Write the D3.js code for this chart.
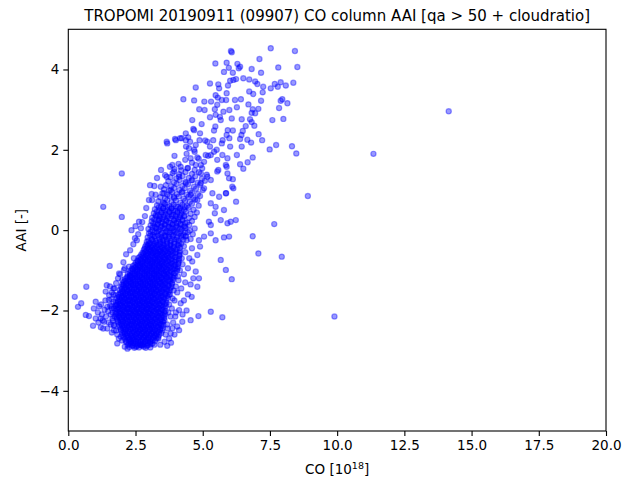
<!DOCTYPE html>
<html>
<head>
<meta charset="utf-8">
<script src="https://cdn.jsdelivr.net/npm/d3@7"></script>
<style>
html,body{margin:0;padding:0;background:#fff;}
svg{display:block;font-family:"DejaVu Sans",sans-serif;}
</style>
</head>
<body>
<svg id="chart" width="624" height="482"></svg>
<script>
// ---- data: [CO (10^18), AAI] ----
const xTicks = [0, 2.5, 5, 7.5, 10, 12.5, 15, 17.5, 20];
const yTicks = [-4, -2, 0, 2, 4];
const xDomain = [0, 20];
const yDomain = [-5, 5];

const corePoints = [
[2.27,-2.91],[2.38,-2.88],[2.46,-2.93],[2.55,-2.89],[2.63,-2.92],[2.72,-2.87],[2.81,-2.90],[2.93,-2.88],
[2.16,-2.79],[2.25,-2.82],[2.33,-2.78],[2.42,-2.81],[2.51,-2.77],[2.60,-2.82],[2.68,-2.79],[2.77,-2.83],[2.86,-2.78],[2.95,-2.81],[3.04,-2.79],[3.13,-2.82],
[2.11,-2.71],[2.20,-2.68],[2.29,-2.72],[2.38,-2.69],[2.46,-2.73],[2.55,-2.70],[2.64,-2.67],[2.73,-2.71],[2.82,-2.68],[2.90,-2.72],[2.99,-2.69],[3.08,-2.71],[3.18,-2.68],[3.28,-2.70],
[2.02,-2.61],[2.11,-2.58],[2.20,-2.62],[2.30,-2.59],[2.39,-2.63],[2.47,-2.60],[2.56,-2.57],[2.65,-2.61],[2.74,-2.58],[2.83,-2.62],[2.92,-2.59],[3.01,-2.61],[3.10,-2.58],[3.20,-2.62],[3.29,-2.59],[3.38,-2.61],
[1.96,-2.49],[2.05,-2.52],[2.14,-2.48],[2.23,-2.51],[2.32,-2.47],[2.41,-2.52],[2.50,-2.49],[2.59,-2.51],[2.68,-2.48],[2.77,-2.52],[2.86,-2.49],[2.95,-2.51],[3.04,-2.48],[3.13,-2.52],[3.22,-2.49],[3.32,-2.51],[3.42,-2.48],[3.50,-2.50],
[1.91,-2.41],[2.00,-2.38],[2.09,-2.42],[2.18,-2.39],[2.27,-2.41],[2.36,-2.37],[2.45,-2.42],[2.54,-2.39],[2.63,-2.41],[2.72,-2.38],[2.81,-2.42],[2.90,-2.39],[2.99,-2.41],[3.08,-2.38],[3.17,-2.42],[3.26,-2.39],[3.36,-2.41],[3.47,-2.38],
[1.86,-2.29],[1.95,-2.32],[2.04,-2.28],[2.13,-2.31],[2.22,-2.29],[2.31,-2.33],[2.40,-2.28],[2.49,-2.31],[2.58,-2.29],[2.67,-2.32],[2.76,-2.28],[2.85,-2.31],[2.94,-2.29],[3.03,-2.32],[3.12,-2.28],[3.21,-2.31],[3.31,-2.29],[3.41,-2.32],[3.52,-2.28],
[1.81,-2.21],[1.90,-2.18],[1.99,-2.22],[2.08,-2.19],[2.17,-2.21],[2.26,-2.17],[2.35,-2.22],[2.44,-2.19],[2.53,-2.21],[2.62,-2.18],[2.71,-2.22],[2.80,-2.19],[2.89,-2.21],[2.98,-2.18],[3.07,-2.22],[3.16,-2.19],[3.26,-2.21],[3.36,-2.18],[3.46,-2.22],[3.57,-2.19],
[1.76,-2.09],[1.85,-2.12],[1.94,-2.08],[2.03,-2.11],[2.12,-2.09],[2.21,-2.13],[2.30,-2.08],[2.39,-2.11],[2.48,-2.09],[2.57,-2.12],[2.66,-2.08],[2.75,-2.11],[2.84,-2.09],[2.93,-2.12],[3.02,-2.08],[3.11,-2.11],[3.21,-2.09],[3.31,-2.12],[3.41,-2.08],[3.51,-2.11],[3.60,-2.09],
[1.75,-2.01],[1.84,-1.98],[1.93,-2.02],[2.02,-1.99],[2.11,-2.01],[2.20,-1.97],[2.29,-2.02],[2.38,-1.99],[2.47,-2.01],[2.56,-1.98],[2.65,-2.02],[2.74,-1.99],[2.83,-2.01],[2.92,-1.98],[3.01,-2.02],[3.10,-1.99],[3.20,-2.01],[3.30,-1.98],[3.40,-2.02],[3.51,-1.99],[3.62,-2.01],
[1.76,-1.89],[1.85,-1.92],[1.94,-1.88],[2.03,-1.91],[2.12,-1.89],[2.21,-1.93],[2.30,-1.88],[2.39,-1.91],[2.48,-1.89],[2.57,-1.92],[2.66,-1.88],[2.75,-1.91],[2.84,-1.89],[2.93,-1.92],[3.02,-1.88],[3.11,-1.91],[3.21,-1.89],[3.31,-1.92],[3.41,-1.88],[3.52,-1.91],[3.63,-1.89],
[1.77,-1.81],[1.86,-1.78],[1.95,-1.82],[2.04,-1.79],[2.13,-1.81],[2.22,-1.77],[2.31,-1.82],[2.40,-1.79],[2.49,-1.81],[2.58,-1.78],[2.67,-1.82],[2.76,-1.79],[2.85,-1.81],[2.94,-1.78],[3.03,-1.82],[3.12,-1.79],[3.22,-1.81],[3.32,-1.78],[3.42,-1.82],[3.53,-1.79],[3.65,-1.81],
[1.81,-1.69],[1.90,-1.72],[1.99,-1.68],[2.08,-1.71],[2.17,-1.69],[2.26,-1.73],[2.35,-1.68],[2.44,-1.71],[2.53,-1.69],[2.62,-1.72],[2.71,-1.68],[2.80,-1.71],[2.89,-1.69],[2.98,-1.72],[3.07,-1.68],[3.16,-1.71],[3.26,-1.69],[3.36,-1.72],[3.46,-1.68],[3.57,-1.71],[3.70,-1.69],
[1.86,-1.61],[1.95,-1.58],[2.04,-1.62],[2.13,-1.59],[2.22,-1.61],[2.31,-1.57],[2.40,-1.62],[2.49,-1.59],[2.58,-1.61],[2.67,-1.58],[2.76,-1.62],[2.85,-1.59],[2.94,-1.61],[3.03,-1.58],[3.12,-1.62],[3.21,-1.59],[3.31,-1.61],[3.41,-1.58],[3.51,-1.62],[3.62,-1.59],[3.74,-1.61],
[1.91,-1.49],[2.00,-1.52],[2.09,-1.48],[2.18,-1.51],[2.27,-1.49],[2.36,-1.53],[2.45,-1.48],[2.54,-1.51],[2.63,-1.49],[2.72,-1.52],[2.81,-1.48],[2.90,-1.51],[2.99,-1.49],[3.08,-1.52],[3.17,-1.48],[3.26,-1.51],[3.36,-1.49],[3.46,-1.52],[3.56,-1.48],[3.67,-1.51],[3.79,-1.49],
[1.96,-1.41],[2.05,-1.38],[2.14,-1.42],[2.23,-1.39],[2.32,-1.41],[2.41,-1.37],[2.50,-1.42],[2.59,-1.39],[2.68,-1.41],[2.77,-1.38],[2.86,-1.42],[2.95,-1.39],[3.04,-1.41],[3.13,-1.38],[3.22,-1.42],[3.31,-1.39],[3.41,-1.41],[3.51,-1.38],[3.61,-1.42],[3.72,-1.39],[3.84,-1.41],
[2.06,-1.29],[2.15,-1.32],[2.24,-1.28],[2.33,-1.31],[2.42,-1.29],[2.51,-1.33],[2.60,-1.28],[2.69,-1.31],[2.78,-1.29],[2.87,-1.32],[2.96,-1.28],[3.05,-1.31],[3.14,-1.29],[3.23,-1.32],[3.32,-1.28],[3.42,-1.31],[3.52,-1.29],[3.62,-1.32],[3.73,-1.28],[3.86,-1.31],
[2.11,-1.21],[2.20,-1.18],[2.29,-1.22],[2.38,-1.19],[2.47,-1.21],[2.56,-1.17],[2.65,-1.22],[2.74,-1.19],[2.83,-1.21],[2.92,-1.18],[3.01,-1.22],[3.10,-1.19],[3.19,-1.21],[3.28,-1.18],[3.37,-1.22],[3.47,-1.19],[3.57,-1.21],[3.67,-1.18],[3.78,-1.22],[3.91,-1.19],
[2.21,-1.09],[2.30,-1.12],[2.39,-1.08],[2.48,-1.11],[2.57,-1.09],[2.66,-1.13],[2.75,-1.08],[2.84,-1.11],[2.93,-1.09],[3.02,-1.12],[3.11,-1.08],[3.20,-1.11],[3.29,-1.09],[3.38,-1.12],[3.48,-1.08],[3.58,-1.11],[3.68,-1.09],[3.79,-1.12],[3.92,-1.08],
[2.31,-1.01],[2.40,-0.98],[2.49,-1.02],[2.58,-0.99],[2.67,-1.01],[2.76,-0.97],[2.85,-1.02],[2.94,-0.99],[3.03,-1.01],[3.12,-0.98],[3.21,-1.02],[3.30,-0.99],[3.39,-1.01],[3.49,-0.98],[3.59,-1.02],[3.69,-0.99],[3.80,-1.01],[3.93,-0.98],[4.04,-1.01],
[2.41,-0.89],[2.50,-0.92],[2.59,-0.88],[2.68,-0.91],[2.77,-0.89],[2.86,-0.93],[2.95,-0.88],[3.04,-0.91],[3.13,-0.89],[3.22,-0.92],[3.31,-0.88],[3.40,-0.91],[3.50,-0.89],[3.60,-0.92],[3.70,-0.88],[3.81,-0.91],[3.94,-0.89],[4.07,-0.92],
[2.51,-0.81],[2.60,-0.78],[2.69,-0.82],[2.78,-0.79],[2.87,-0.81],[2.96,-0.77],[3.05,-0.82],[3.14,-0.79],[3.23,-0.81],[3.32,-0.78],[3.41,-0.82],[3.51,-0.79],[3.61,-0.81],[3.71,-0.78],[3.82,-0.82],[3.95,-0.79],[4.10,-0.81],
[2.61,-0.69],[2.70,-0.72],[2.79,-0.68],[2.88,-0.71],[2.97,-0.69],[3.06,-0.73],[3.15,-0.68],[3.24,-0.71],[3.33,-0.69],[3.42,-0.72],[3.52,-0.68],[3.62,-0.71],[3.72,-0.69],[3.83,-0.72],[3.96,-0.68],[4.12,-0.71],
[2.71,-0.61],[2.80,-0.58],[2.89,-0.62],[2.98,-0.59],[3.07,-0.61],[3.16,-0.57],[3.25,-0.62],[3.34,-0.59],[3.43,-0.61],[3.53,-0.58],[3.63,-0.62],[3.73,-0.59],[3.84,-0.61],[3.97,-0.58],[4.14,-0.61],
[2.81,-0.49],[2.90,-0.52],[2.99,-0.48],[3.08,-0.51],[3.17,-0.49],[3.26,-0.53],[3.35,-0.48],[3.44,-0.51],[3.54,-0.49],[3.64,-0.52],[3.74,-0.48],[3.85,-0.51],[3.98,-0.49],[4.15,-0.52],
[2.86,-0.41],[2.96,-0.38],[3.06,-0.42],[3.16,-0.39],[3.26,-0.41],[3.36,-0.37],[3.46,-0.42],[3.57,-0.39],[3.68,-0.41],[3.80,-0.38],[3.93,-0.41],[4.10,-0.38],
[2.92,-0.29],[3.04,-0.32],[3.16,-0.28],[3.28,-0.31],[3.41,-0.29],[3.53,-0.32],[3.66,-0.28],[3.79,-0.31],[3.94,-0.29],[4.12,-0.32]
];

const coreFillPoints = [
[2.21,-2.86],[2.31,-2.84],[2.40,-2.87],[2.49,-2.83],[2.58,-2.86],[2.67,-2.84],[2.76,-2.87],[2.85,-2.84],[2.96,-2.86],[3.06,-2.84],
[2.14,-2.76],[2.24,-2.74],[2.33,-2.77],[2.42,-2.73],[2.51,-2.76],[2.60,-2.74],[2.69,-2.77],[2.78,-2.73],[2.87,-2.76],[2.96,-2.74],[3.05,-2.77],[3.14,-2.74],[3.23,-2.76],
[2.06,-2.66],[2.16,-2.64],[2.25,-2.67],[2.34,-2.63],[2.43,-2.66],[2.52,-2.64],[2.61,-2.67],[2.70,-2.63],[2.79,-2.66],[2.88,-2.64],[2.97,-2.67],[3.06,-2.63],[3.15,-2.66],[3.25,-2.64],[3.34,-2.66],
[2.00,-2.56],[2.10,-2.54],[2.19,-2.57],[2.28,-2.53],[2.37,-2.56],[2.46,-2.54],[2.55,-2.57],[2.64,-2.53],[2.73,-2.56],[2.82,-2.54],[2.91,-2.57],[3.00,-2.53],[3.09,-2.56],[3.18,-2.54],[3.27,-2.57],[3.37,-2.54],[3.46,-2.56],
[1.94,-2.46],[2.04,-2.44],[2.13,-2.47],[2.22,-2.43],[2.31,-2.46],[2.40,-2.44],[2.49,-2.47],[2.58,-2.43],[2.67,-2.46],[2.76,-2.44],[2.85,-2.47],[2.94,-2.43],[3.03,-2.46],[3.12,-2.44],[3.21,-2.47],[3.31,-2.43],[3.41,-2.46],[3.51,-2.44],
[1.89,-2.36],[1.99,-2.34],[2.08,-2.37],[2.17,-2.33],[2.26,-2.36],[2.35,-2.34],[2.44,-2.37],[2.53,-2.33],[2.62,-2.36],[2.71,-2.34],[2.80,-2.37],[2.89,-2.33],[2.98,-2.36],[3.07,-2.34],[3.16,-2.37],[3.26,-2.33],[3.36,-2.36],[3.46,-2.34],[3.54,-2.36],
[1.84,-2.26],[1.94,-2.24],[2.03,-2.27],[2.12,-2.23],[2.21,-2.26],[2.30,-2.24],[2.39,-2.27],[2.48,-2.23],[2.57,-2.26],[2.66,-2.24],[2.75,-2.27],[2.84,-2.23],[2.93,-2.26],[3.02,-2.24],[3.11,-2.27],[3.21,-2.23],[3.31,-2.26],[3.41,-2.24],[3.51,-2.27],[3.58,-2.24],
[1.79,-2.16],[1.89,-2.14],[1.98,-2.17],[2.07,-2.13],[2.16,-2.16],[2.25,-2.14],[2.34,-2.17],[2.43,-2.13],[2.52,-2.16],[2.61,-2.14],[2.70,-2.17],[2.79,-2.13],[2.88,-2.16],[2.97,-2.14],[3.06,-2.17],[3.16,-2.13],[3.26,-2.16],[3.36,-2.14],[3.46,-2.17],[3.56,-2.14],
[1.79,-2.06],[1.89,-2.04],[1.98,-2.07],[2.07,-2.03],[2.16,-2.06],[2.25,-2.04],[2.34,-2.07],[2.43,-2.03],[2.52,-2.06],[2.61,-2.04],[2.70,-2.07],[2.79,-2.03],[2.88,-2.06],[2.97,-2.04],[3.06,-2.07],[3.16,-2.03],[3.26,-2.06],[3.36,-2.04],[3.46,-2.07],[3.57,-2.04],
[1.80,-1.96],[1.90,-1.94],[1.99,-1.97],[2.08,-1.93],[2.17,-1.96],[2.26,-1.94],[2.35,-1.97],[2.44,-1.93],[2.53,-1.96],[2.62,-1.94],[2.71,-1.97],[2.80,-1.93],[2.89,-1.96],[2.98,-1.94],[3.07,-1.97],[3.17,-1.93],[3.27,-1.96],[3.37,-1.94],[3.47,-1.97],[3.58,-1.94],
[1.81,-1.86],[1.91,-1.84],[2.00,-1.87],[2.09,-1.83],[2.18,-1.86],[2.27,-1.84],[2.36,-1.87],[2.45,-1.83],[2.54,-1.86],[2.63,-1.84],[2.72,-1.87],[2.81,-1.83],[2.90,-1.86],[2.99,-1.84],[3.08,-1.87],[3.18,-1.83],[3.28,-1.86],[3.38,-1.84],[3.48,-1.87],[3.60,-1.84],
[1.84,-1.76],[1.94,-1.74],[2.03,-1.77],[2.12,-1.73],[2.21,-1.76],[2.30,-1.74],[2.39,-1.77],[2.48,-1.73],[2.57,-1.76],[2.66,-1.74],[2.75,-1.77],[2.84,-1.73],[2.93,-1.76],[3.02,-1.74],[3.11,-1.77],[3.21,-1.73],[3.31,-1.76],[3.41,-1.74],[3.51,-1.77],[3.63,-1.74],
[1.88,-1.66],[1.98,-1.64],[2.07,-1.67],[2.16,-1.63],[2.25,-1.66],[2.34,-1.64],[2.43,-1.67],[2.52,-1.63],[2.61,-1.66],[2.70,-1.64],[2.79,-1.67],[2.88,-1.63],[2.97,-1.66],[3.06,-1.64],[3.15,-1.67],[3.25,-1.63],[3.35,-1.66],[3.45,-1.64],[3.56,-1.67],[3.68,-1.64],
[1.93,-1.56],[2.03,-1.54],[2.12,-1.57],[2.21,-1.53],[2.30,-1.56],[2.39,-1.54],[2.48,-1.57],[2.57,-1.53],[2.66,-1.56],[2.75,-1.54],[2.84,-1.57],[2.93,-1.53],[3.02,-1.56],[3.11,-1.54],[3.20,-1.57],[3.30,-1.53],[3.40,-1.56],[3.50,-1.54],[3.61,-1.57],[3.73,-1.54],
[1.99,-1.46],[2.09,-1.44],[2.18,-1.47],[2.27,-1.43],[2.36,-1.46],[2.45,-1.44],[2.54,-1.47],[2.63,-1.43],[2.72,-1.46],[2.81,-1.44],[2.90,-1.47],[2.99,-1.43],[3.08,-1.46],[3.17,-1.44],[3.26,-1.47],[3.36,-1.43],[3.46,-1.46],[3.56,-1.44],[3.67,-1.47],[3.79,-1.44],
[2.05,-1.36],[2.15,-1.34],[2.24,-1.37],[2.33,-1.33],[2.42,-1.36],[2.51,-1.34],[2.60,-1.37],[2.69,-1.33],[2.78,-1.36],[2.87,-1.34],[2.96,-1.37],[3.05,-1.33],[3.14,-1.36],[3.23,-1.34],[3.32,-1.37],[3.42,-1.33],[3.52,-1.36],[3.62,-1.34],[3.73,-1.37],[3.85,-1.34],
[2.12,-1.26],[2.22,-1.24],[2.31,-1.27],[2.40,-1.23],[2.49,-1.26],[2.58,-1.24],[2.67,-1.27],[2.76,-1.23],[2.85,-1.26],[2.94,-1.24],[3.03,-1.27],[3.12,-1.23],[3.21,-1.26],[3.30,-1.24],[3.39,-1.27],[3.49,-1.23],[3.59,-1.26],[3.69,-1.24],[3.80,-1.27],[3.90,-1.24],
[2.19,-1.16],[2.29,-1.14],[2.38,-1.17],[2.47,-1.13],[2.56,-1.16],[2.65,-1.14],[2.74,-1.17],[2.83,-1.13],[2.92,-1.16],[3.01,-1.14],[3.10,-1.17],[3.19,-1.13],[3.28,-1.16],[3.37,-1.14],[3.46,-1.17],[3.56,-1.13],[3.66,-1.16],[3.76,-1.14],[3.87,-1.17],[3.96,-1.14],
[2.28,-1.06],[2.38,-1.04],[2.47,-1.07],[2.56,-1.03],[2.65,-1.06],[2.74,-1.04],[2.83,-1.07],[2.92,-1.03],[3.01,-1.06],[3.10,-1.04],[3.19,-1.07],[3.28,-1.03],[3.37,-1.06],[3.46,-1.04],[3.55,-1.07],[3.65,-1.03],[3.75,-1.06],[3.85,-1.04],[3.97,-1.07],
[2.37,-0.96],[2.47,-0.94],[2.56,-0.97],[2.65,-0.93],[2.74,-0.96],[2.83,-0.94],[2.92,-0.97],[3.01,-0.93],[3.10,-0.96],[3.19,-0.94],[3.28,-0.97],[3.37,-0.93],[3.46,-0.96],[3.55,-0.94],[3.65,-0.97],[3.75,-0.93],[3.86,-0.96],[3.98,-0.94],[4.06,-0.96],
[2.47,-0.86],[2.57,-0.84],[2.66,-0.87],[2.75,-0.83],[2.84,-0.86],[2.93,-0.84],[3.02,-0.87],[3.11,-0.83],[3.20,-0.86],[3.29,-0.84],[3.38,-0.87],[3.47,-0.83],[3.56,-0.86],[3.66,-0.84],[3.76,-0.87],[3.87,-0.83],[3.99,-0.86],[4.09,-0.84],
[2.57,-0.76],[2.67,-0.74],[2.76,-0.77],[2.85,-0.73],[2.94,-0.76],[3.03,-0.74],[3.12,-0.77],[3.21,-0.73],[3.30,-0.76],[3.39,-0.74],[3.48,-0.77],[3.57,-0.73],[3.67,-0.76],[3.77,-0.74],[3.88,-0.77],[4.00,-0.74],[4.11,-0.76],
[2.66,-0.66],[2.76,-0.64],[2.85,-0.67],[2.94,-0.63],[3.03,-0.66],[3.12,-0.64],[3.21,-0.67],[3.30,-0.63],[3.39,-0.66],[3.48,-0.64],[3.58,-0.67],[3.68,-0.63],[3.78,-0.66],[3.89,-0.64],[4.01,-0.67],[4.13,-0.64],
[2.76,-0.56],[2.86,-0.54],[2.95,-0.57],[3.04,-0.53],[3.13,-0.56],[3.22,-0.54],[3.31,-0.57],[3.40,-0.53],[3.49,-0.56],[3.59,-0.54],[3.69,-0.57],[3.79,-0.53],[3.90,-0.56],[4.02,-0.54],[4.14,-0.56],
[2.84,-0.46],[2.94,-0.44],[3.03,-0.47],[3.12,-0.43],[3.21,-0.46],[3.30,-0.44],[3.40,-0.47],[3.50,-0.43],[3.60,-0.46],[3.70,-0.44],[3.81,-0.47],[3.92,-0.43],[4.04,-0.46],[4.16,-0.44],
[2.90,-0.36],[3.00,-0.34],[3.10,-0.37],[3.21,-0.33],[3.32,-0.36],[3.43,-0.34],[3.55,-0.37],[3.67,-0.33],[3.80,-0.36],[3.94,-0.34],[4.07,-0.37],[4.20,-0.34],
[2.98,-0.26],[3.12,-0.24],[3.26,-0.27],[3.40,-0.23],[3.54,-0.26],[3.68,-0.24],[3.82,-0.27],[3.96,-0.23],[4.10,-0.26],[4.28,-0.24],
[3.05,-0.14],[3.19,-0.16],[3.33,-0.13],[3.47,-0.17],[3.61,-0.14],[3.75,-0.16],[3.90,-0.13],[4.05,-0.17],[4.20,-0.14],[4.36,-0.16],
[3.06,-0.04],[3.20,-0.06],[3.34,-0.03],[3.48,-0.07],[3.62,-0.04],[3.76,-0.06],[3.90,-0.03],[4.04,-0.07],[4.18,-0.04],[4.33,-0.06],
[3.13,0.07],[3.28,0.04],[3.43,0.08],[3.58,0.05],[3.72,0.09],[3.86,0.05],[4.00,0.08],[4.15,0.04],[4.30,0.09],
[3.16,0.17],[3.31,0.14],[3.45,0.18],[3.59,0.15],[3.73,0.19],[3.87,0.15],[4.02,0.18],[4.18,0.14],[4.35,0.18],
[3.20,0.27],[3.35,0.24],[3.49,0.28],[3.63,0.25],[3.78,0.29],[3.93,0.25],[4.08,0.28],[4.24,0.24],
[3.25,0.37],[3.40,0.34],[3.55,0.38],[3.70,0.35],[3.85,0.39],[4.00,0.35],[4.15,0.38],[4.30,0.34],
[3.30,0.47],[3.45,0.44],[3.60,0.48],[3.75,0.45],[3.90,0.49],[4.06,0.45],[4.22,0.48],
[3.37,0.57],[3.53,0.54],[3.69,0.58],[3.85,0.55],[4.01,0.59],[4.17,0.55],[4.34,0.58]
];

const upperCorePoints = [
[2.95,-0.18],[3.10,-0.22],[3.22,-0.15],[3.37,-0.20],[3.50,-0.24],[3.61,-0.17],[3.74,-0.21],[3.88,-0.16],[4.02,-0.23],[4.20,-0.19],[4.38,-0.14],[4.55,-0.22],
[3.00,-0.08],[3.14,-0.12],[3.29,-0.05],[3.43,-0.10],[3.56,-0.13],[3.70,-0.06],[3.83,-0.11],[3.97,-0.04],[4.11,-0.09],[4.27,-0.12],[4.44,-0.05],[4.63,-0.10],
[2.98,0.03],[3.12,-0.01],[3.25,0.06],[3.39,0.01],[3.52,0.04],[3.66,-0.02],[3.80,0.05],[3.93,0.00],[4.08,0.07],[4.22,0.02],[4.36,0.05],[4.52,-0.01],[4.70,0.04],
[3.06,0.12],[3.20,0.09],[3.33,0.15],[3.47,0.10],[3.60,0.13],[3.75,0.08],[3.89,0.14],[4.03,0.11],[4.18,0.16],[4.34,0.09],[4.50,0.13],
[3.10,0.22],[3.24,0.19],[3.38,0.25],[3.51,0.20],[3.65,0.23],[3.80,0.18],[3.94,0.24],[4.10,0.21],[4.25,0.26],[4.42,0.19],[4.60,0.23],
[3.12,0.31],[3.27,0.34],[3.41,0.29],[3.56,0.33],[3.70,0.30],[3.85,0.35],[4.00,0.28],[4.15,0.32],[4.32,0.36],[4.49,0.30],[4.70,0.33],
[3.18,0.42],[3.33,0.38],[3.48,0.44],[3.62,0.40],[3.77,0.45],[3.91,0.39],[4.06,0.43],[4.21,0.40],[4.37,0.46],[4.55,0.41],[4.78,0.44],
[3.22,0.52],[3.38,0.49],[3.53,0.55],[3.68,0.50],[3.83,0.54],[3.98,0.48],[4.14,0.53],[4.30,0.50],[4.47,0.56],[4.66,0.51],
[3.30,0.62],[3.45,0.59],[3.60,0.65],[3.76,0.60],[3.92,0.64],[4.08,0.58],[4.24,0.63],[4.41,0.60],[4.60,0.66],[4.85,0.61],
[3.35,0.72],[3.52,0.69],[3.68,0.75],[3.84,0.70],[4.00,0.74],[4.17,0.68],[4.34,0.73],[4.52,0.70],[4.72,0.76],
[3.42,0.82],[3.60,0.79],[3.77,0.85],[3.94,0.80],[4.11,0.84],[4.29,0.78],[4.47,0.83],[4.66,0.80],[4.90,0.85],
[3.50,0.92],[3.68,0.89],[3.86,0.95],[4.04,0.90],[4.22,0.94],[4.41,0.88],[4.60,0.93],[4.82,0.90],
[3.56,1.02],[3.75,0.99],[3.94,1.05],[4.13,1.00],[4.33,1.04],[4.53,0.98],[4.75,1.03],[5.00,1.00],
[3.63,1.12],[3.83,1.09],[4.03,1.15],[4.24,1.10],[4.45,1.14],[4.67,1.08],[4.90,1.13],
[3.72,1.22],[3.93,1.19],[4.14,1.25],[4.36,1.20],[4.58,1.24],[4.81,1.18],[5.08,1.23],
[3.80,1.32],[4.02,1.29],[4.25,1.35],[4.48,1.30],[4.72,1.34],[4.97,1.28],
[3.88,1.42],[4.12,1.39],[4.36,1.45],[4.60,1.40],[4.86,1.44],[5.15,1.38],
[3.95,1.52],[4.20,1.49],[4.45,1.55],[4.70,1.50],[4.98,1.54],
[4.10,1.65],[4.35,1.75],[4.60,1.68],[4.85,1.78],[5.05,1.70],[4.40,1.90],[4.70,1.95],[5.20,1.85],[3.95,1.85]
];

const fringePoints = [
[1.62,-1.95],[1.58,-2.10],[1.66,-2.25],[1.60,-1.72],[1.68,-1.60],[1.70,-2.38],[1.78,-2.50],[1.82,-2.60],[1.55,-1.88],[1.72,-1.45],
[1.78,-1.32],[1.85,-1.20],[1.93,-1.10],[2.00,-1.35],[1.48,-2.02],[1.50,-2.30],[1.40,-2.15],[1.35,-1.98],[1.28,-2.25],[1.22,-1.85],
[1.10,-2.05],[1.12,-2.30],[1.30,-2.45],[1.02,-2.20],[0.95,-1.95],[2.05,-0.80],[2.15,-0.60],[2.30,-0.50],[2.42,-0.35],[2.55,-0.25],
[2.60,-0.10],[2.70,0.05],[2.75,0.20],[2.85,0.35],[2.90,0.55],[3.00,0.75],[3.10,0.90],[3.20,1.10],[3.30,1.30],[3.45,1.50],
[2.35,0.00],[2.50,0.10],[2.10,-0.95],
[1.65,-2.05],[1.68,-1.78],[1.58,-2.35],[1.72,-2.15],[1.52,-1.62],[1.45,-2.45],[1.62,-2.55],[1.88,-2.70],[1.82,-2.82],[1.38,-1.75],[1.25,-2.10],[1.70,-1.95],
[3.75,-2.70],[3.90,-2.30],[4.00,-2.05],[3.85,-1.95],[3.95,-1.75],[4.05,-1.55],[4.20,-1.45],[4.35,-1.30],[4.10,-1.25],[4.30,-1.10],
[4.45,-0.95],[4.25,-0.85],[4.50,-0.70],[4.35,-0.55],[4.60,-0.45],[3.70,-2.45],[3.80,-2.15],[4.45,-1.60],[4.65,-1.20],[3.62,-2.60],
[3.58,-2.78],[3.42,-2.85],[3.35,-2.70],[2.10,-2.90],[2.20,-2.95],[3.05,-2.92],[3.20,-2.85],[2.00,-2.75],[1.95,-2.65],
[3.68,-2.35],[3.72,-2.05],[3.75,-1.85],[3.78,-1.60],[3.92,-1.50],[3.88,-1.70],[4.00,-1.40],[4.08,-1.15],[4.15,-1.00],[4.22,-0.70],
[4.30,-0.40],[4.40,-0.25],[3.95,-2.60],[4.05,-2.40],[3.82,-2.80],[4.30,-1.75],[4.40,-2.00],[4.55,-1.35],[4.25,-2.10],[3.98,-2.15],
[1.99,1.41],[1.30,0.58],[1.99,0.33],[2.63,0.21],[1.54,-0.89],[0.24,-1.66],[0.36,-1.91],[0.48,-1.82],[0.67,-1.41],[0.65,-2.11],
[0.77,-2.14],[0.92,-2.38],[1.02,-1.78],[1.15,-1.90],[1.20,-2.20],[1.43,-1.37],[1.39,-1.53],[1.51,-1.74],[1.45,-1.91],[1.21,-2.42],
[1.33,-2.28],[1.64,-2.20],[1.70,-2.49],[1.70,-2.36],[1.89,-1.08],[2.07,-0.99],[2.01,-1.24],[2.26,-0.91],[2.32,-1.16],[2.44,-0.70],
[2.48,-0.20],[1.55,-1.40],[1.62,-1.55],[1.68,-1.45],[1.75,-1.62],[1.78,-1.85],[1.60,-1.90],
[3.68,-2.88],[2.88,-2.93],[2.69,-2.86],[2.32,-2.81],[2.51,-2.90],
[4.80,-1.41],[4.86,-1.20],[4.74,-1.03],[4.59,-1.66],[4.18,-1.82],[4.12,-1.99],[4.24,-2.28],[4.12,-2.49],[3.81,-2.57],[3.87,-2.44],
[4.61,-0.78],[4.80,-0.62],[4.90,-0.41],[4.86,-0.25],[5.05,-0.16],[5.30,-0.08],[5.48,-0.25],[5.67,0.25],[5.92,0.17],[5.79,-0.18],
[5.98,-0.16],[5.23,0.21],[5.45,0.42],[5.30,0.13],
[5.67,-0.74],[5.86,-0.99],[6.08,-1.22],[5.30,-2.03],[5.73,-2.17],[4.84,-2.14],[4.55,-2.24]
];

const plumePoints = [
[7.53,4.53],[8.43,4.46],[7.11,4.26],[6.82,4.01],[7.81,4.05],[8.52,4.06],[7.17,3.92],[6.39,4.07],[6.51,3.78],[6.73,3.75],
[6.95,3.70],[7.03,3.64],[7.68,3.64],[7.90,3.68],[7.79,3.57],[7.53,3.53],[7.25,3.57],[8.09,3.60],[8.37,3.67],[6.73,3.45],
[6.88,3.39],[7.23,3.43],[6.42,3.26],[6.70,3.13],[7.17,3.22],[7.90,3.22],[7.96,3.26],[8.15,3.16],[7.84,3.04],[6.86,3.01],
[7.07,3.02],[6.95,2.91],[6.82,2.92],[6.45,2.76],[6.76,2.76],[7.59,2.74],[8.00,2.77],[6.82,2.69],[6.60,2.59],[6.92,2.60],
[6.49,2.47],[7.08,2.39],[6.39,2.27],[6.66,2.25],[6.80,2.18],[7.21,2.24],[7.73,2.12],[7.49,2.01],[8.32,2.09],[8.48,1.91],
[6.45,2.08],[6.67,1.69],[6.86,1.81],[6.39,1.64],[6.51,1.53],
[6.05,4.46],[6.08,4.43],[5.47,4.15],[5.89,4.17],[5.97,4.04],[5.79,3.94],[6.29,4.14],[6.34,4.03],[6.12,3.92],
[5.27,3.65],[5.58,3.63],[5.94,3.60],[6.02,3.72],[6.24,3.76],[6.14,3.74],
[4.74,3.55],[4.28,3.26],[4.68,3.23],[5.06,3.20],[5.31,3.20],[4.87,3.01],[5.07,2.99],[5.45,3.01],[5.56,3.30],[5.71,3.24],
[5.87,3.24],[5.89,3.41],[6.20,3.24],[5.77,2.95],[5.99,2.99],[6.27,3.06],
[4.61,2.74],[4.96,2.64],[5.27,2.81],[5.47,2.58],[5.64,2.82],[6.08,2.78],[5.93,2.49],[6.12,2.48],[5.89,2.37],[6.44,2.37],
[4.37,2.41],[4.65,2.52],[4.90,2.41],[5.09,2.23],[5.39,2.24],[5.74,2.24],[5.99,2.29],
[3.68,2.16],[4.00,2.24],[4.22,2.29],[4.53,2.20],[4.88,2.24],[5.27,2.08],[5.52,2.00],[5.71,2.16],[6.02,2.08],[6.27,1.87],
[5.89,1.58],[5.58,1.50],[6.12,1.27],[6.14,1.04],[6.24,0.71],[5.87,0.92],
[5.61,3.53],[5.48,3.36],[5.54,3.12],[5.48,2.87],[5.67,2.74],[5.42,2.48],[4.68,2.49],[5.17,2.20],[4.37,2.24],[4.49,2.04],[4.74,2.12],
[4.68,2.00],[4.80,1.81],[4.55,1.79],[4.93,1.62],[5.11,1.87],[5.30,1.87],[5.42,1.95],[5.54,1.75],[5.73,1.87],[5.92,1.79],[5.86,1.62],
[3.87,1.62],[4.18,1.58],[4.43,1.54],[4.74,1.62],[4.93,1.41],[5.17,1.33],[5.30,1.25],[5.54,1.46],[5.92,1.41],[5.98,1.29],
[3.60,1.37],[3.93,1.46],[4.12,1.33],[4.37,1.17],[4.61,1.25],[4.93,1.17],[5.05,1.04],[5.36,0.92],[5.61,0.83],[5.86,0.92],[6.10,1.08],
[3.04,1.12],[3.44,1.08],[3.56,0.92],[3.81,1.00],[3.25,0.88],[3.12,0.75],[3.56,0.67],[3.93,0.83],[4.24,0.96],[4.55,0.88],
[4.80,0.75],[5.30,0.67],[5.48,0.58],[5.79,0.50],[6.23,0.25],[6.04,0.21],
[3.66,2.20],[3.97,2.27],[4.16,2.29],[4.46,2.31],[4.38,2.08],[3.78,1.58],[3.66,1.33]
];

const outlierPoints = [
[11.35,1.90],[14.15,2.96],[8.91,0.85],[7.66,0.15],[6.86,-0.15],[7.07,-0.58],[7.94,-0.66],[9.90,-2.15]
];

// ---- layout ----
const W = 624, H = 482;
const margin = {left: 68.3, right: 18, top: 29.3, bottom: 51};
const svg = d3.select("#chart");
svg.append("rect").attr("width", W).attr("height", H).attr("fill", "#fff");

const x = d3.scaleLinear().domain(xDomain).range([margin.left, W - margin.right]);
const y = d3.scaleLinear().domain(yDomain).range([H - margin.bottom, margin.top]);

svg.append("clipPath").attr("id", "clip").append("rect")
  .attr("x", margin.left).attr("y", margin.top)
  .attr("width", W - margin.right - margin.left).attr("height", H - margin.bottom - margin.top);

const allPoints = [].concat(corePoints, coreFillPoints, upperCorePoints, fringePoints, plumePoints, outlierPoints);

svg.append("g").attr("clip-path", "url(#clip)")
  .selectAll("circle").data(allPoints).join("circle")
  .attr("cx", d => x(d[0]))
  .attr("cy", d => y(d[1]))
  .attr("r", 2.6)
  .attr("fill", "#0000ff").attr("fill-opacity", 0.4)
  .attr("stroke", "#0000ff").attr("stroke-opacity", 0.4).attr("stroke-width", 1.2);

// axes
const fontSize = 13.5;
const xAxis = d3.axisBottom(x).tickValues(xTicks).tickFormat(d3.format(".1f")).tickSizeOuter(0).tickSize(5).tickPadding(4);
const yAxis = d3.axisLeft(y).tickValues(yTicks).tickFormat(d3.format("d")).tickSizeOuter(0).tickSize(5).tickPadding(4);

const gx = svg.append("g").attr("transform", `translate(0,${H - margin.bottom})`).call(xAxis);
const gy = svg.append("g").attr("transform", `translate(${margin.left},0)`).call(yAxis);
[gx, gy].forEach(g => {
  g.select(".domain").remove();
  g.selectAll(".tick line").attr("stroke", "#000").attr("stroke-width", 1.1);
  g.selectAll(".tick text").attr("fill", "#000").attr("font-size", fontSize).attr("font-family", "DejaVu Sans");
});

// frame
svg.append("rect")
  .attr("x", margin.left).attr("y", margin.top)
  .attr("width", W - margin.right - margin.left).attr("height", H - margin.bottom - margin.top)
  .attr("fill", "none").attr("stroke", "#000").attr("stroke-width", 1.1);

// title
svg.append("text")
  .attr("x", (margin.left + W - margin.right) / 2).attr("y", 21)
  .attr("text-anchor", "middle").attr("font-size", 15).attr("fill", "#000")
  .text("TROPOMI 20190911 (09907) CO column AAI [qa > 50 + cloudratio]");

// x label
const xl = svg.append("text")
  .attr("x", (margin.left + W - margin.right) / 2).attr("y", 474)
  .attr("text-anchor", "middle").attr("font-size", fontSize).attr("fill", "#000");
xl.append("tspan").text("CO [10");
xl.append("tspan").attr("dy", -5).attr("font-size", 9.5).text("18");
xl.append("tspan").attr("dy", 5).text("]");

// y label
svg.append("text")
  .attr("transform", `translate(26,${(margin.top + H - margin.bottom) / 2}) rotate(-90)`)
  .attr("text-anchor", "middle").attr("font-size", fontSize).attr("fill", "#000")
  .text("AAI [-]");
</script>
</body>
</html>
